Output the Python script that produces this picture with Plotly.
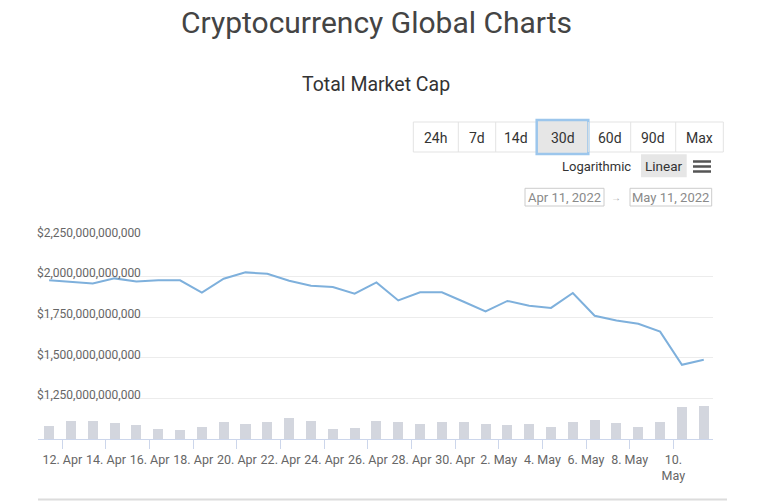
import plotly.graph_objects as go

# daily snapshots (CoinGecko style, sampled mid-morning)
dates = [
    "2022-04-11 09:30", "2022-04-12 09:30", "2022-04-13 09:30", "2022-04-14 09:30",
    "2022-04-15 09:30", "2022-04-16 09:30", "2022-04-17 09:30", "2022-04-18 09:30",
    "2022-04-19 09:30", "2022-04-20 09:30", "2022-04-21 09:30", "2022-04-22 09:30",
    "2022-04-23 09:30", "2022-04-24 09:30", "2022-04-25 09:30", "2022-04-26 09:30",
    "2022-04-27 09:30", "2022-04-28 09:30", "2022-04-29 09:30", "2022-04-30 09:30",
    "2022-05-01 09:30", "2022-05-02 09:30", "2022-05-03 09:30", "2022-05-04 09:30",
    "2022-05-05 09:30", "2022-05-06 09:30", "2022-05-07 09:30", "2022-05-08 09:30",
    "2022-05-09 09:30", "2022-05-10 09:30", "2022-05-11 09:30",
]

# total market cap, trillions USD
market_cap = [
    1.977, 1.968, 1.958, 1.989, 1.970, 1.977, 1.977, 1.901, 1.987, 2.026, 2.018,
    1.975, 1.944, 1.936, 1.895, 1.964, 1.853, 1.903, 1.903, 1.845, 1.786, 1.850,
    1.821, 1.807, 1.899, 1.759, 1.730, 1.710, 1.661, 1.457, 1.488,
]

# total volume, billions USD
volume = [
    78, 110, 110, 96, 84, 60, 54, 72, 104, 90, 104, 126, 110, 60, 66, 110,
    104, 90, 104, 104, 90, 84, 90, 72, 104, 114, 96, 72, 104, 194, 198,
]

tick_dates = ["2022-04-12", "2022-04-14", "2022-04-16", "2022-04-18", "2022-04-20",
              "2022-04-22", "2022-04-24", "2022-04-26", "2022-04-28", "2022-04-30",
              "2022-05-02", "2022-05-04", "2022-05-06", "2022-05-08", "2022-05-10"]
tick_labels = ["12. Apr", "14. Apr", "16. Apr", "18. Apr", "20. Apr", "22. Apr",
               "24. Apr", "26. Apr", "28. Apr", "30. Apr", "2. May", "4. May",
               "6. May", "8. May", "10.<br>May"]

cap_ticks = [1.25, 1.5, 1.75, 2.0, 2.25]

range_buttons = ["24h", "7d", "14d", "30d", "60d", "90d", "Max"]
active_button = "30d"

# the page body adds an 8px margin, so the figure is 8px smaller and all
# positions below are given in page pixels
OFF = 8
W, H = 770 - OFF, 502 - OFF
PL, PT, PW, PH = 38, 236, 675, 203      # plot area in page pixels
L, T = PL - OFF, PT - OFF
R, B = W - L - PW, H - T - PH


def px(x):
    return (x - PL) / PW


def py(y):
    return (PT + PH - y) / PH


FONT = "Roboto"
LINE = "#7eb0dc"

fig = go.Figure()

fig.add_trace(go.Bar(
    x=dates, y=[v * 1e9 for v in volume], yaxis="y2",
    marker=dict(color="#d3d6de", line_width=0),
    width=0.46 * 86400000, hoverinfo="x+y", showlegend=False,
))
fig.add_trace(go.Scatter(
    x=dates, y=[v * 1e12 for v in market_cap], mode="lines",
    line=dict(color=LINE, width=2), showlegend=False,
))

fig.update_layout(
    width=W, height=H,
    margin=dict(l=L, r=R, t=T, b=B),
    paper_bgcolor="white", plot_bgcolor="white",
    font=dict(family=FONT, color="#666"),
    bargap=0,
    xaxis=dict(
        type="date", range=["2022-04-10 21:16", "2022-05-11 19:40"],
        tickvals=tick_dates, ticktext=tick_labels,
        ticks="outside", ticklen=9, tickcolor="#ccd6eb",
        showline=True, linecolor="#ccd6eb", linewidth=1,
        showgrid=False, zeroline=False,
        tickfont=dict(size=12.5, color="#666"),
    ),
    yaxis=dict(
        range=[1.0e12, 2.25e12],
        tickvals=[v * 1e12 for v in cap_ticks],
        ticktext=["${:,.0f}".format(v * 1e12) for v in cap_ticks],
        ticklabelposition="inside top", ticklabeloverflow="allow",
        ticklabelstandoff=-4, ticklabelshift=5,
        showgrid=True, gridcolor="#ececec", zeroline=False, showline=False,
        tickfont=dict(size=12, color="#666"),
    ),
    yaxis2=dict(overlaying="y", range=[0, 1218e9], visible=False),
)

shapes = []
annotations = []

annotations.append(dict(text="Cryptocurrency Global Charts", x=px(376), y=py(23),
                        font=dict(size=30, color="#444")))
annotations.append(dict(text="Total Market Cap", x=px(376), y=py(84),
                        font=dict(size=19.5, color="#333")))

# range selector buttons
edges = [413.3, 458.3, 495.7, 536.7, 588.3, 630.7, 675.7, 723.3]
shapes.append(dict(type="rect", x0=px(edges[0]), x1=px(edges[-1]), y0=py(152), y1=py(122),
                   line=dict(color="#e3e3e3", width=1), fillcolor="white"))
for i, lab in enumerate(range_buttons):
    x0, x1 = edges[i], edges[i + 1]
    if 0 < i:
        shapes.append(dict(type="line", x0=px(x0), x1=px(x0), y0=py(152), y1=py(122),
                           line=dict(color="#e3e3e3", width=1)))
    if lab == active_button:
        shapes.append(dict(type="rect", x0=px(x0), x1=px(x1), y0=py(154), y1=py(120),
                           line=dict(color="#9cc6ec", width=2.5), fillcolor="#e6e6e6"))
    annotations.append(dict(text=lab, x=px((x0 + x1) / 2), y=py(138),
                            font=dict(size=14, color="#333")))

# scale toggle
annotations.append(dict(text="Logarithmic", x=px(633), y=py(166), xanchor="right",
                        font=dict(size=13, color="#333")))
shapes.append(dict(type="rect", x0=px(641), x1=px(686.7), y0=py(177.3), y1=py(154.3),
                   line=dict(width=0), fillcolor="#e6e6e6"))
annotations.append(dict(text="Linear", x=px(664), y=py(166),
                        font=dict(size=13.5, color="#333")))
for yy in (161.5, 166.5, 171.5):
    shapes.append(dict(type="line", x0=px(693), x1=px(711), y0=py(yy), y1=py(yy),
                       line=dict(color="#555", width=2.5)))

# date inputs
for (x0, x1, txt) in [(525, 604, "Apr 11, 2022"), (630, 711.7, "May 11, 2022")]:
    shapes.append(dict(type="rect", x0=px(x0), x1=px(x1), y0=py(206), y1=py(188.3),
                       line=dict(color="#cccccc", width=1), fillcolor="white"))
    annotations.append(dict(text=txt, x=px((x0 + x1) / 2), y=py(197.5),
                            font=dict(size=13, color="#8a8a8a")))
annotations.append(dict(text="→", x=px(616), y=py(197.5),
                        font=dict(size=10, color="#aaa")))

# bottom separator
shapes.append(dict(type="line", x0=px(38), x1=px(727), y0=py(499.5), y1=py(499.5),
                   line=dict(color="#dcdcdc", width=2)))

for s in shapes:
    s.update(xref="paper", yref="paper", layer="below")
for a in annotations:
    a.setdefault("xanchor", "center")
    a.update(xref="paper", yref="paper", yanchor="middle", showarrow=False)
fig.update_layout(shapes=shapes, annotations=annotations)

fig.write_html("out.html")
